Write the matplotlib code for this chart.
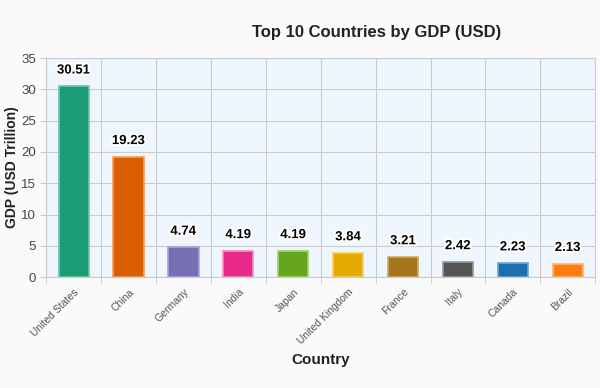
import numpy as np
import matplotlib.pyplot as plt
import matplotlib.patheffects as pe

plt.rcParams["font.family"] = ["Liberation Sans", "DejaVu Sans"]

countries = ["United States", "China", "Germany", "India", "Japan",
             "United Kingdom", "France", "Italy", "Canada", "Brazil"]
gdp = [30.51, 19.23, 4.74, 4.19, 4.19, 3.84, 3.21, 2.42, 2.23, 2.13]
colors = ["#1b9e77", "#d95f02", "#7570b3", "#e7298a", "#66a61e",
          "#e6ab02", "#a6761d", "#555555", "#1f6fae", "#ff7f0e"]
edge_colors = ["#6cc7a8", "#f0a060", "#a9a5d6", "#f290c0", "#9fd06a",
               "#f2cf6a", "#cfa866", "#999999", "#6fa6d6", "#ffb370"]

fig = plt.figure(figsize=(6, 3.88), dpi=100, facecolor="#fafafa")
ax = fig.add_axes([0.077, 0.286, 0.915, 0.564])
ax.set_facecolor("#eff6fe")

x = np.arange(len(countries))
ax.bar(x, gdp, width=0.55, color=colors, edgecolor=edge_colors,
       linewidth=1.2, zorder=3)

for xi, v in zip(x, gdp):
    ax.annotate(f"{v:.2f}", (xi, v), xytext=(0, 7), textcoords="offset points",
                ha="center", va="bottom", fontsize=9.5, fontweight="bold",
                color="black", zorder=4,
                path_effects=[pe.withStroke(linewidth=3, foreground="white")])

ax.set_xlim(-0.5, len(countries) - 0.5)
ax.set_ylim(0, 35)
ax.set_yticks(np.arange(0, 36, 5))
ax.set_xticks(x)
ax.set_xticklabels(countries, rotation=45, ha="right", rotation_mode="anchor",
                   fontsize=7.5, color="#555555")
ax.set_xticks(np.arange(-0.5, len(countries), 1), minor=True)
ax.tick_params(axis="x", which="major", length=0, pad=7)
ax.tick_params(axis="x", which="minor", length=5, color="#cccccc")
ax.tick_params(axis="y", labelsize=9.5, labelcolor="#444444", length=4,
               color="#cccccc")

ax.grid(axis="y", color="#c8ccd0", linewidth=0.8, zorder=0)
ax.grid(axis="x", which="minor", color="#c8ccd0", linewidth=0.8, zorder=0)
ax.set_axisbelow(True)

for s in ["top", "right", "left", "bottom"]:
    ax.spines[s].set_color("#c8ccd0")
    ax.spines[s].set_linewidth(0.8)

ax.set_ylabel("GDP (USD Trillion)", fontsize=10, fontweight="bold",
              color="#222222")
ax.yaxis.set_label_coords(-0.05, 0.5)
ax.set_xlabel("Country", fontsize=11, fontweight="bold", color="#222222",
              labelpad=5)
fig.text(0.628, 0.915, "Top 10 Countries by GDP (USD)", ha="center",
         va="center", fontsize=12, fontweight="bold", color="#222222")

fig.savefig("out.png", dpi=100, facecolor=fig.get_facecolor())
